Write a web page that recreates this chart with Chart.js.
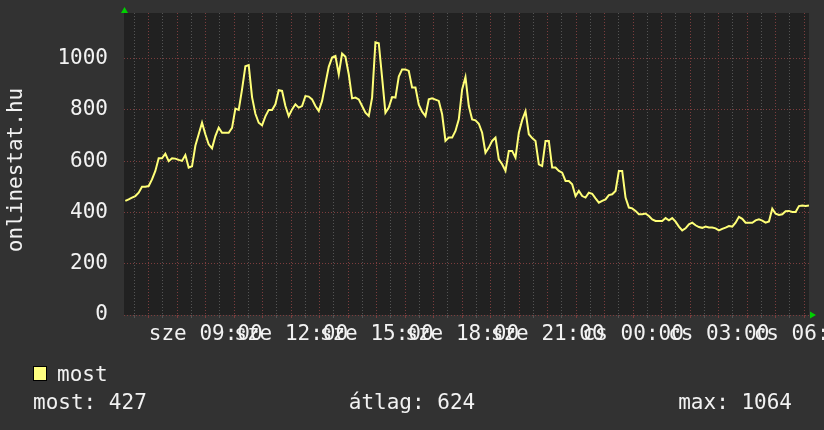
<!DOCTYPE html>
<html>
<head>
<meta charset="utf-8">
<script src="https://cdn.jsdelivr.net/npm/chart.js@4/dist/chart.umd.min.js"></script>
<style>
  body { margin: 0; background: #323232; }
  #wrap { position: relative; width: 824px; height: 430px; font-family: "DejaVu Sans Mono", monospace; font-size: 21px; color: #f2f2f2; }
  #wrap div { position: absolute; line-height: 24px; white-space: pre; }
  .box { width: 14px; height: 15px; box-sizing: border-box; background: #ffff80; border: 1px solid #000; }
  #yTitle { left: 15px; top: 170px; transform: translate(-50%, -50%) rotate(-90deg); }
</style>
</head>
<body>
<div id="wrap">
  <canvas id="chart" width="824" height="430"></canvas>
  <div id="yTitle"></div>
  <div class="box" style="left:33px;top:366px;"></div>
  <div id="legName" style="left:57px;top:362px;"></div>
  <div id="statNow" style="left:33px;top:390px;"></div>
  <div id="statAvg" style="left:0;width:824px;text-align:center;top:390px;"></div>
  <div id="statMax" style="right:32px;top:390px;"></div>
</div>
<script>
// time axis: minutes since wednesday 00:00
const xMin = 368;
const xMax = 1810;
const firstTime = 370.8;
const stepMinutes = 7.02;

const seriesName = "most";
const yTitle = "onlinestat.hu";

const labelTimes = [540, 720, 900, 1080, 1260, 1440, 1620, 1800];
const labelTexts = ["sze 09:00", "sze 12:00", "sze 15:00", "sze 18:00", "sze 21:00", "cs 00:00", "cs 03:00", "cs 06:00"];
const yLabels = [0, 200, 400, 600, 800, 1000];

const statLabels = ["most", "átlag", "max"];
const statValues = [427, 624, 1064];

const values = [
  445, 451, 458, 464, 477, 500, 500, 503, 529, 562,
  611, 611, 629, 600, 611, 610, 605, 601, 624, 575,
  580, 660, 705, 750, 705, 666, 650, 698, 731, 711,
  711, 711, 730, 805, 800, 880, 970, 975, 850, 785,
  750, 740, 775, 800, 800, 822, 877, 874, 815, 776,
  802, 822,
  809, 815, 854, 852, 841, 815, 796, 835, 902, 968,
  1004, 1010, 939, 1020, 1007, 939, 845, 848, 841, 815,
  789, 776, 848, 1064, 1060, 926, 789, 809, 850, 848,
  930, 958, 958, 952, 887, 887, 820, 793, 776, 841,
  845, 840, 835, 783, 679, 692, 692, 718, 763, 880,
  928,
  815, 763, 759, 746, 711, 633, 653, 679, 692, 607,
  588, 562, 640, 640, 614, 711, 760, 795, 705, 690,
  679, 588, 581, 679, 679, 575, 575, 562, 555, 523,
  523, 510, 464, 484, 464, 458, 477, 473, 455, 438,
  445, 451, 468, 471, 484, 562, 562, 458, 419, 416,
  406, 393,
  393, 396, 386, 373, 367, 367, 367, 378, 369, 378,
  364, 345, 330, 338, 354, 360, 350, 343, 340, 345,
  341, 341, 338, 330, 336, 341, 347, 345, 360, 383,
  375, 360, 360, 360, 369, 373, 368, 360, 365, 415,
  395, 390, 393, 405, 406, 402, 402, 425, 427, 425,
  427
];

const majorColor = "#7c3d3d";
const minorColor = "#545454";
const font = { family: "DejaVu Sans Mono", size: 21 };

document.getElementById("yTitle").textContent = yTitle;
document.getElementById("legName").textContent = seriesName;
document.getElementById("statNow").textContent = statLabels[0] + ": " + statValues[0];
document.getElementById("statAvg").textContent = statLabels[1] + ": " + statValues[1];
document.getElementById("statMax").textContent = statLabels[2] + ": " + statValues[2];

const plotBg = {
  id: "plotBg",
  beforeDraw(chart) {
    const { ctx, chartArea: a } = chart;
    ctx.save();
    ctx.fillStyle = "#212121";
    ctx.fillRect(a.left, a.top, a.right - a.left, a.bottom - a.top);
    ctx.restore();
  },
  afterDraw(chart) {
    const { ctx, chartArea: a } = chart;
    ctx.save();
    ctx.fillStyle = "#00d000";
    ctx.beginPath();
    ctx.moveTo(a.left + 0.5, a.top - 6);
    ctx.lineTo(a.left - 3, a.top);
    ctx.lineTo(a.left + 4, a.top);
    ctx.fill();
    ctx.beginPath();
    ctx.moveTo(a.right + 7, a.bottom);
    ctx.lineTo(a.right + 1, a.bottom - 3.5);
    ctx.lineTo(a.right + 1, a.bottom + 3.5);
    ctx.fill();
    ctx.restore();
  }
};

const gridColor = (isMajor) => (c) => (c.tick && isMajor(c.tick.value) ? majorColor : minorColor);

new Chart(document.getElementById("chart").getContext("2d"), {
  type: "line",
  data: {
    datasets: [
      {
        label: seriesName,
        data: values.map((v, i) => ({ x: firstTime + i * stepMinutes, y: v })),
        borderColor: "#ffff78",
        borderWidth: 2,
        pointRadius: 0,
        tension: 0,
        fill: false,
      },
    ],
  },
  options: {
    responsive: false,
    animation: false,
    layout: { padding: { top: 13, right: 15, bottom: 0, left: 0 } },
    plugins: { legend: { display: false }, tooltip: { enabled: false } },
    scales: {
      x: {
        type: "linear",
        min: xMin,
        max: xMax,
        afterFit: (s) => {
          s.height = 115;
          s.paddingLeft = 0;
          s.paddingRight = 0;
        },
        afterBuildTicks: (s) => {
          const t = [];
          for (let m = 390; m <= xMax; m += 30) t.push({ value: m });
          s.ticks = t;
        },
        grid: {
          color: gridColor((v) => v % 60 === 0),
          tickColor: gridColor((v) => v % 60 === 0),
          drawTicks: true,
          tickLength: 3,
        },
        border: { display: false, dash: [1, 2] },
        ticks: {
          autoSkip: false,
          maxRotation: 0,
          padding: 4,
          color: "#f2f2f2",
          font: font,
          callback: (v) => {
            const i = labelTimes.indexOf(v);
            return i >= 0 ? labelTexts[i] : "";
          },
        },
      },
      y: {
        min: 0,
        max: 1178,
        afterFit: (s) => {
          s.width = 124;
          s.paddingTop = 0;
          s.paddingBottom = 0;
        },
        afterBuildTicks: (s) => {
          const t = [];
          for (let v = 0; v <= 1100; v += 100) t.push({ value: v });
          s.ticks = t;
        },
        grid: {
          color: gridColor((v) => v % 200 === 0),
          drawTicks: false,
        },
        border: { display: false, dash: [1, 2] },
        ticks: {
          padding: 16,
          color: "#f2f2f2",
          font: font,
          callback: (v) => (yLabels.includes(v) ? String(v) : ""),
        },
      },
    },
  },
  plugins: [plotBg],
});
</script>
</body>
</html>
